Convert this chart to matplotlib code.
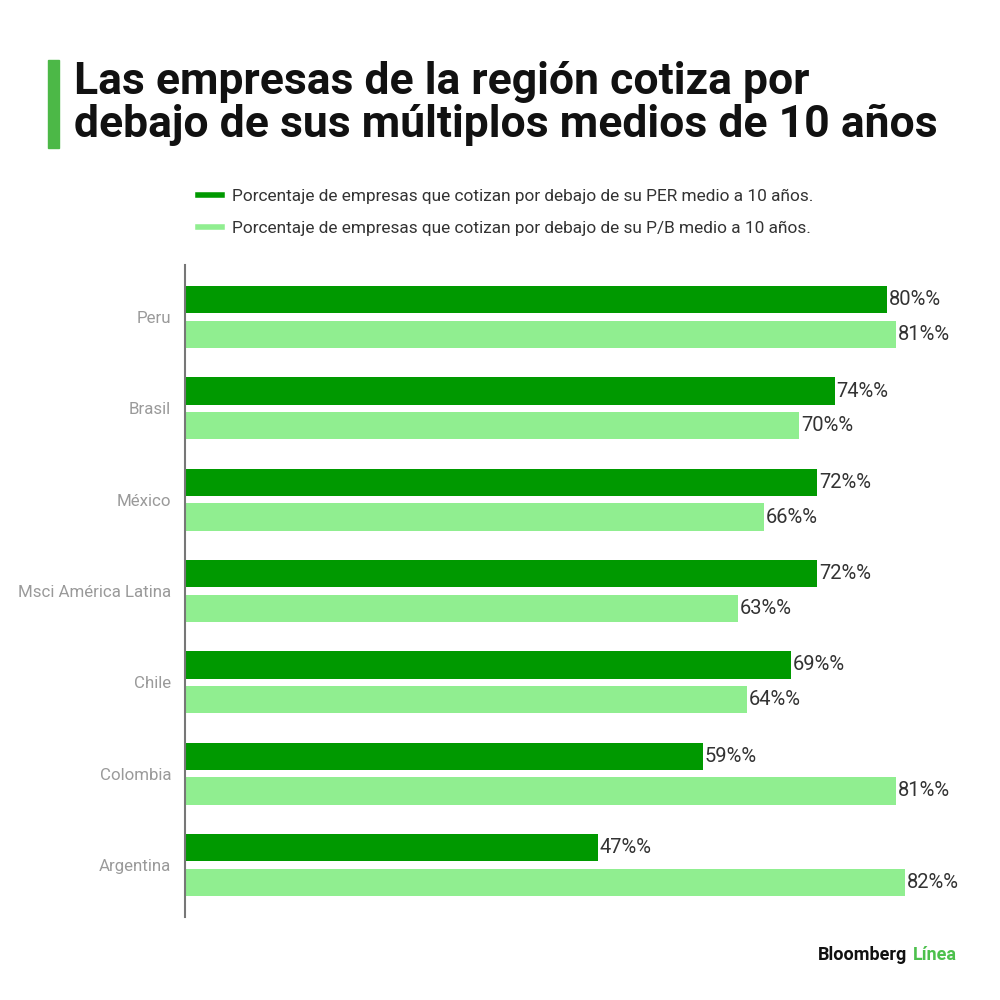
import matplotlib
matplotlib.use("Agg")
import matplotlib.pyplot as plt
import numpy as np

categories = ["Peru", "Brasil", "México", "Msci América Latina", "Chile", "Colombia", "Argentina"]
per_values = [80, 74, 72, 72, 69, 59, 47]
pb_values = [81, 70, 66, 63, 64, 81, 82]
legend_labels = [
    "Porcentaje de empresas que cotizan por debajo de su PER medio a 10 años.",
    "Porcentaje de empresas que cotizan por debajo de su P/B medio a 10 años.",
]
title = "Las empresas de la región cotiza por\ndebajo de sus múltiplos medios de 10 años"

dark = "#009900"
light = "#90EE90"

fig = plt.figure(figsize=(10, 10), dpi=100)
fig.patch.set_facecolor("white")

ax = fig.add_axes([0.185, 1 - 0.917, 0.79, 0.652])
y = np.arange(len(categories))
off = 0.19
h = 0.30
ax.barh(y - off, per_values, height=h, color=dark, label=legend_labels[0])
ax.barh(y + off, pb_values, height=h, color=light, label=legend_labels[1])
ax.set_xlim(0, 90)
ax.set_ylim(len(categories) - 1 + 0.57, -0.57)
ax.set_yticks(y)
ax.set_yticklabels(categories, fontsize=12.2, color="#9a9a9a", family="Roboto")
ax.tick_params(axis="y", length=0, pad=10)
ax.set_xticks([])
for s in ["top", "right", "bottom"]:
    ax.spines[s].set_visible(False)
ax.spines["left"].set_color("#777777")
ax.spines["left"].set_linewidth(1.5)

for i, (a, b) in enumerate(zip(per_values, pb_values)):
    ax.text(a + 0.2, i - off, f"{a}%%", va="center", ha="left", fontsize=14.5, color="#333333", family="Roboto")
    ax.text(b + 0.2, i + off, f"{b}%%", va="center", ha="left", fontsize=14.5, color="#333333", family="Roboto")

# Title
fig.patches.append(plt.Rectangle((0.048, 0.852), 0.011, 0.088, transform=fig.transFigure, color="#4cb847"))
fig.text(0.074, 0.939, title, ha="left", va="top", fontsize=32, fontweight="bold",
         family="Roboto", color="#111111", linespacing=1.02)

# Legend
handles = [plt.Line2D([0], [0], color=dark, lw=4), plt.Line2D([0], [0], color=light, lw=4)]
fig.legend(handles, legend_labels, loc="upper left", bbox_to_anchor=(0.182, 0.827), frameon=False,
           prop={"family": "Roboto", "size": 12.4}, labelcolor="#333333", handlelength=1.4,
           handletextpad=0.6, labelspacing=1.0)

# Footer
t1 = fig.text(0.818, 0.045, "Bloomberg", ha="left", va="center", fontsize=13, fontweight="bold",
              family="Roboto", color="#111111")
fig.canvas.draw()
bb = t1.get_window_extent()
x2 = (bb.x1 + 6) / fig.bbox.width
fig.text(x2, 0.045, "Línea", ha="left", va="center", fontsize=13, fontweight="bold",
         family="Roboto", color="#4cc04c")

fig.savefig("out.png", dpi=100, facecolor="white")
